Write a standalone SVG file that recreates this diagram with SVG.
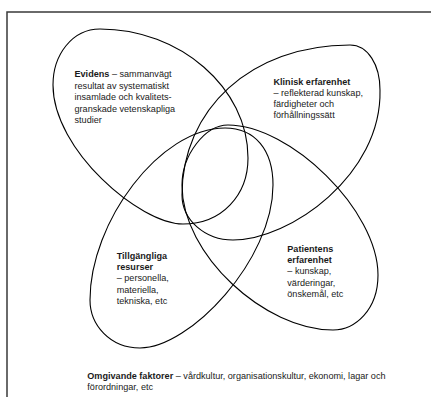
<svg xmlns="http://www.w3.org/2000/svg" width="431" height="397" viewBox="0 0 431 397">
<style>
.frame{fill:none;stroke:#3a3a3a;stroke-width:1.5}
.egg{fill:none;stroke:#000;stroke-width:1.1}
text{font-family:"Liberation Sans",Arial,sans-serif;font-size:9.1px;fill:#1a1a1a}
.b{font-weight:bold}
</style>
<rect class="frame" x="7" y="12" width="440" height="400"/>
<g id="evidens">
<path class="egg" d="M100,29 C180,29 248,88 248,158 C248,195 222,224 183,224 C140,224 53,150 53,85 C53,55 72,29 100,29 Z"/>
<text x="74.5" y="77"><tspan class="b">Evidens</tspan> – sammanvägt</text>
<text x="74.5" y="88.6">resultat av systematiskt</text>
<text x="74.5" y="100.2">insamlade och kvalitets-</text>
<text x="74.5" y="111.8">granskade vetenskapliga</text>
<text x="74.5" y="123.4">studier</text>
</g>
<g id="klinisk">
<path class="egg" d="M350,45 C368,45 380,65 380,90 C382,175 290,240 233,240 C205,240 182,220 182,195 C182,110 250,45 350,45 Z"/>
<text x="273.5" y="84.5" class="b">Klinisk erfarenhet</text>
<text x="273.5" y="95.8">– reflekterad kunskap,</text>
<text x="273.5" y="107.1">färdigheter och</text>
<text x="273.5" y="118.4">förhållningssätt</text>
</g>
<g id="tillgangliga">
<path class="egg" d="M225,128 C255,128 273,150 273,185 C273,260 190,348 140,348 C110,348 90,325 90,300 C90,222 160,128 225,128 Z"/>
<text x="116.7" y="259.2" class="b">Tillgängliga</text>
<text x="116.7" y="270.3" class="b">resurser</text>
<text x="116.7" y="281.4">– personella,</text>
<text x="116.7" y="292.5">materiella,</text>
<text x="116.7" y="303.6">tekniska, etc</text>
</g>
<g id="patientens">
<path class="egg" d="M228,125 C290,125 378,210 378,275 C378,310 355,330 333,330 C265,330 182,255 182,185 C182,155 205,125 228,125 Z"/>
<text x="287.3" y="252" class="b">Patientens</text>
<text x="287.3" y="263.2" class="b">erfarenhet</text>
<text x="287.3" y="274.4">– kunskap,</text>
<text x="287.3" y="285.6">värderingar,</text>
<text x="287.3" y="296.8">önskemål, etc</text>
</g>
<g id="omgivande">
<text x="87.3" y="378.5"><tspan class="b">Omgivande faktorer</tspan> – vårdkultur, organisationskultur, ekonomi, lagar och</text>
<text x="87.3" y="389.5">förordningar, etc</text>
</g>
</svg>
